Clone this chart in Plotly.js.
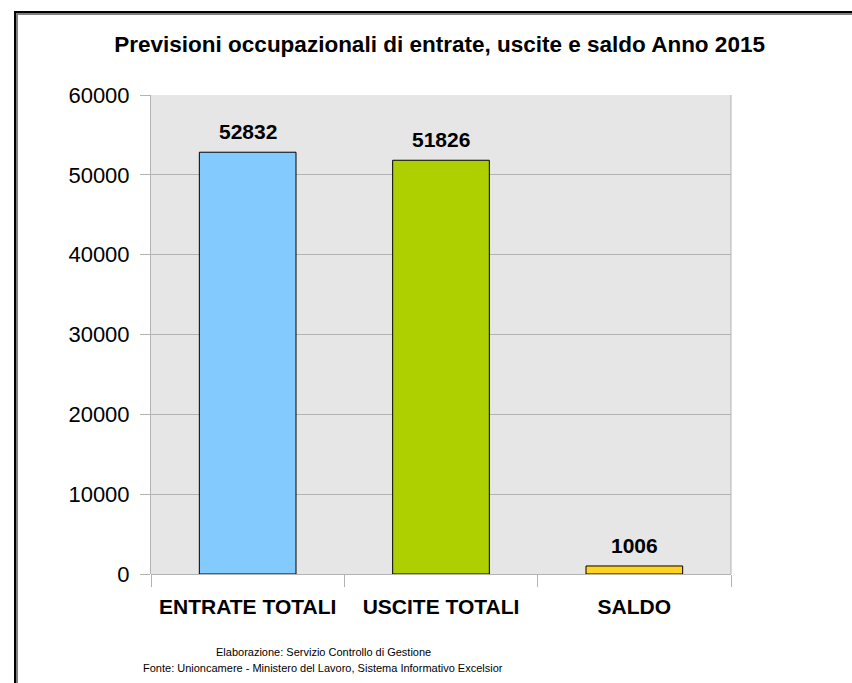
<!DOCTYPE html>
<html><head><meta charset="utf-8">
<script src="https://cdn.plot.ly/plotly-3.0.1.min.js"></script>
<style>
html,body{margin:0;padding:0;background:#fff;}
#wrap{position:relative;width:852px;height:683px;}
#chart{position:absolute;left:0;top:0;width:852px;height:683px;}
#b1{position:absolute;left:14px;top:11px;right:0;bottom:0;border-left:2px solid #000;border-top:2px solid #000;pointer-events:none;}
#b2{position:absolute;left:16px;top:13px;right:0;bottom:0;border-left:2px solid #808080;border-top:2px solid #808080;pointer-events:none;}
</style></head>
<body><div id="wrap"><div id="chart"></div><div id="b1"></div><div id="b2"></div></div>
<script>
const categories = ["ENTRATE TOTALI", "USCITE TOTALI", "SALDO"];
const values = [52832, 51826, 1006];
const barColors = ["#83caff", "#aecf00", "#ffd320"];
const yTicks = [0, 10000, 20000, 30000, 40000, 50000, 60000];
const chartTitle = "Previsioni occupazionali di entrate, uscite e saldo Anno 2015";
const footerLines = ["Elaborazione: Servizio Controllo di Gestione", "Fonte: Unioncamere - Ministero del Lavoro, Sistema Informativo Excelsior"];

const font = "Liberation Sans, Arial, sans-serif";
const trace = {
  type: "bar", x: categories, y: values,
  marker: {color: barColors, line: {color: "#000", width: 1}},
  hoverinfo: "none"
};
const annotations = categories.map((c, i) => ({
  x: c, y: values[i], xref: "x", yref: "y", text: String(values[i]),
  showarrow: false, yanchor: "bottom", yshift: 7,
  font: {family: font, size: 21, color: "#000", weight: "bold"}
}));
annotations.push({xref: "paper", yref: "paper", x: 0.297, y: -0.163, yanchor: "middle", xanchor: "center",
  showarrow: false, text: footerLines[0], font: {family: font, size: 11, color: "#000"}});
annotations.push({xref: "paper", yref: "paper", x: 0.297, y: -0.196, yanchor: "middle", xanchor: "center",
  showarrow: false, text: footerLines[1], font: {family: font, size: 11, color: "#000"}});

const layout = {
  width: 852, height: 683,
  margin: {l: 151, r: 121, t: 95, b: 109},
  paper_bgcolor: "#fff", plot_bgcolor: "#e6e6e6",
  title: {text: "<b>" + chartTitle + "</b>", x: 0.516, xanchor: "center", y: 0.935, yanchor: "middle",
    font: {family: font, size: 22.5, color: "#000"}},
  bargap: 0.5,
  showlegend: false,
  xaxis: {
    type: "category", tickson: "boundaries", ticks: "outside", ticklen: 12, tickcolor: "#b3b3b3",
    showline: false, showgrid: false, zeroline: false,
    tickfont: {family: font, size: 21, color: "#000", weight: "bold"},
    ticklabelstandoff: 18
  },
  yaxis: {
    range: [0, 60000], tickvals: yTicks, ticktext: yTicks.map(String),
    ticks: "outside", ticklen: 10, tickcolor: "#b3b3b3",
    showgrid: true, gridcolor: "#b3b3b3", gridwidth: 1,
    zeroline: true, zerolinecolor: "#b3b3b3", zerolinewidth: 1,
    showline: true, linecolor: "#b3b3b3", linewidth: 1, mirror: false,
    tickfont: {family: font, size: 22, color: "#000"},
    ticklabelstandoff: 6
  },
  shapes: [
    {type: "line", xref: "paper", yref: "paper", x0: 1, x1: 1, y0: 0, y1: 1, line: {color: "#b3b3b3", width: 1}}
  ],
  annotations: annotations
};
Plotly.newPlot("chart", [trace], layout, {displayModeBar: false, staticPlot: true});
</script></body></html>
